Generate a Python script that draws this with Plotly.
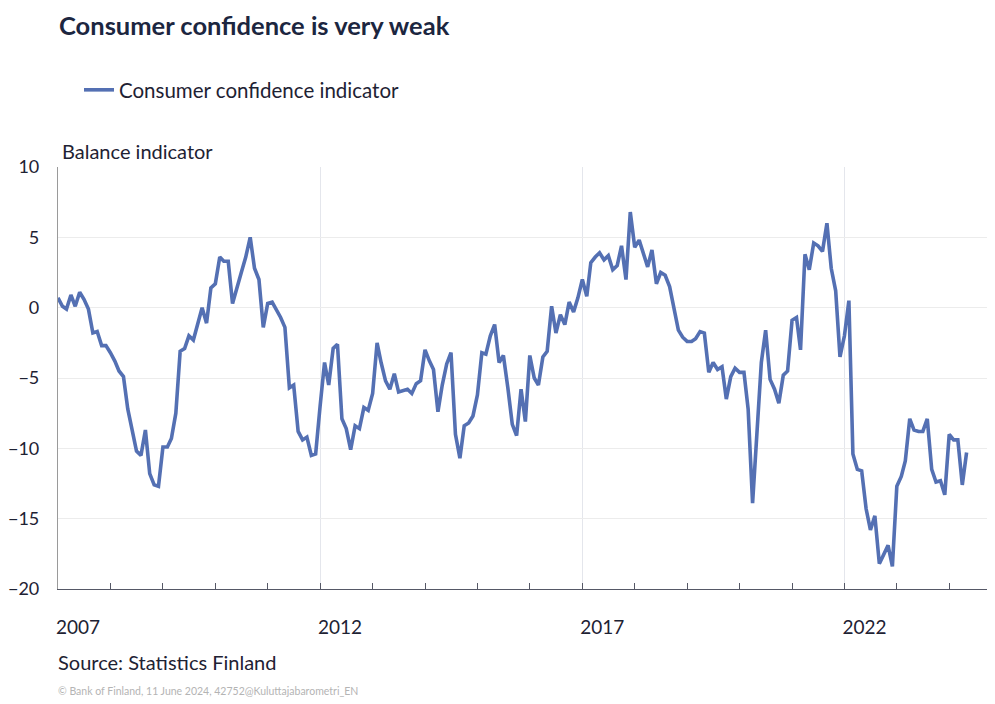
import pandas as pd
import plotly.graph_objects as go

# Monthly consumer confidence indicator, Jan 2007 - May 2024
start_month = "2007-01-01"
cci_values = [
    0.7, 0.1, -0.1, 0.9, 0.1, 1.1, 0.6, -0.1, -1.8, -1.7, -2.7, -2.7,          # 2007
    -3.2, -3.8, -4.5, -4.9, -7.2, -8.9, -10.2, -10.5, -8.7, -11.8, -12.6, -12.7,  # 2008
    -9.9, -9.9, -9.3, -7.5, -3.1, -2.9, -2.0, -2.3, -1.1, 0.0, -1.1, 1.4,      # 2009
    1.7, 3.6, 3.3, 3.3, 0.3, 1.5, 2.5, 3.6, 5.0, 2.8, 2.0, -1.4,               # 2010
    0.3, 0.4, -0.1, -0.7, -1.4, -5.7, -5.5, -8.8, -9.4, -9.2, -10.5, -10.4,    # 2011
    -7.0, -3.9, -5.5, -2.9, -2.6, -7.9, -8.6, -10.1, -8.4, -8.6, -7.1, -7.3,   # 2012
    -6.1, -2.5, -3.9, -5.2, -5.8, -4.7, -6.0, -5.9, -5.8, -6.1, -5.4, -5.2,    # 2013
    -3.0, -3.8, -4.4, -7.4, -5.5, -4.0, -3.2, -9.0, -10.7, -8.4, -8.2, -7.7,   # 2014
    -6.2, -3.2, -3.3, -2.0, -1.2, -3.9, -3.4, -5.7, -8.3, -9.1, -5.8, -8.1,    # 2015
    -3.4, -5.0, -5.5, -3.5, -3.1, 0.1, -1.8, -0.5, -1.2, 0.4, -0.3, 0.7,       # 2016
    2.0, 0.8, 3.2, 3.6, 3.9, 3.4, 3.7, 2.7, 3.0, 4.4, 2.0, 6.8,                # 2017
    4.3, 4.8, 3.9, 2.9, 4.1, 1.7, 2.5, 2.3, 1.5, 0.1, -1.6, -2.1,              # 2018
    -2.4, -2.4, -2.2, -1.7, -1.8, -4.6, -3.9, -4.4, -4.2, -6.5, -4.9, -4.3,    # 2019
    -4.6, -4.6, -7.2, -13.9, -8.9, -3.9, -1.6, -5.1, -5.8, -6.8, -4.8, -4.5,   # 2020
    -0.9, -0.7, -3.0, 3.8, 2.7, 4.6, 4.4, 4.0, 6.0, 2.8, 1.2, -3.5,            # 2021
    -2.0, 0.5, -10.4, -11.5, -11.6, -14.3, -15.8, -14.8, -18.2, -17.6, -16.9, -18.4,  # 2022
    -12.7, -12.0, -10.9, -7.9, -8.7, -8.8, -8.8, -7.9, -11.5, -12.4, -12.3, -13.3,    # 2023
    -9.0, -9.4, -9.4, -12.6, -10.3,                                             # 2024
]
months = pd.date_range(start_month, periods=len(cci_values), freq="MS")

series_name = "Consumer confidence indicator"
title_text = "Consumer confidence is very weak"
y_title = "Balance indicator"
source_text = "Source: Statistics Finland"
credit_text = "© Bank of Finland, 11 June 2024, 42752@Kuluttajabarometri_EN"
y_ticks = [-20, -15, -10, -5, 0, 5, 10]

FONT = "Lato, 'Open Sans', sans-serif"
LINE_COLOR = "#5470b3"
TEXT_COLOR = "#1e2233"

# page is offset by the 8px default body margin; plot area spans page x 58..993, y 167..589
PLOT_H = 422
PLOT_W = 935
def py(page_y):
    return (589 - page_y) / PLOT_H
def px(page_x):
    return (page_x - 58) / PLOT_W

fig = go.Figure()
fig.add_trace(go.Scatter(
    x=months, y=cci_values, mode="lines", name=series_name,
    line=dict(color=LINE_COLOR, width=3.6),
))

fig.update_layout(
    width=987, height=696,
    margin=dict(l=50, r=2, t=159, b=115, autoexpand=False),
    paper_bgcolor="white", plot_bgcolor="white",
    font=dict(family=FONT, size=18, color=TEXT_COLOR),
    showlegend=True,
    legend=dict(
        x=px(79), y=py(90), xanchor="left", yanchor="middle",
        font=dict(size=20.5, color=TEXT_COLOR), itemwidth=30,
        bgcolor="rgba(0,0,0,0)",
    ),
    xaxis=dict(
        type="date",
        range=["2007-01-01", "2024-11-01"],
        tick0="2007-01-01", dtick="M60", tickformat="%Y",
        ticks="inside", ticklen=6, tickcolor="#555866",
        ticklabelshift=20, ticklabelstandoff=21,
        showgrid=True, gridcolor="#e4e6ec", gridwidth=1,
        showline=True, linecolor="#555866", linewidth=1.3,
        minor=dict(dtick="M12", tick0="2007-01-01", ticks="inside", ticklen=6,
                   tickcolor="#555866", showgrid=False),
        tickfont=dict(size=19, color=TEXT_COLOR),
        zeroline=False,
    ),
    yaxis=dict(
        range=[-20, 10], tickvals=y_ticks,
        showgrid=True, gridcolor="#ececec", gridwidth=1,
        showline=True, linecolor="#9a9a9a", linewidth=1.2,
        zeroline=False, ticks="", ticklabelstandoff=14,
        tickfont=dict(size=18, color=TEXT_COLOR),
    ),
    annotations=[
        dict(text=f"<b>{title_text}</b>", xref="paper", yref="paper",
             x=0, y=py(9), xanchor="left", yanchor="top", borderpad=0,
             showarrow=False, font=dict(size=25.5, color="#1c2640", family=FONT)),
        dict(text=y_title, xref="paper", yref="paper",
             x=px(60), y=py(151), xanchor="left", yanchor="middle",
             showarrow=False, font=dict(size=20, color=TEXT_COLOR, family=FONT)),
        dict(text=source_text, xref="paper", yref="paper",
             x=px(56), y=py(662), xanchor="left", yanchor="middle",
             showarrow=False, font=dict(size=20, color=TEXT_COLOR, family=FONT)),
        dict(text=credit_text, xref="paper", yref="paper",
             x=px(56), y=py(691), xanchor="left", yanchor="middle",
             showarrow=False, font=dict(size=10.5, color="#b4b4b4", family=FONT)),
    ],
)

fig.write_html("out.html")
